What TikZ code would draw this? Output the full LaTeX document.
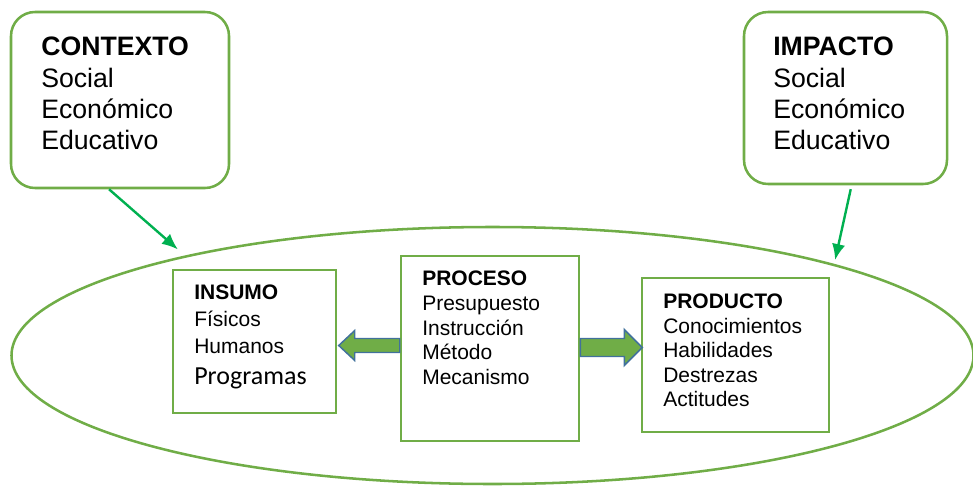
\documentclass[tikz,border=0pt]{standalone}
\usepackage{fontspec}
\setmainfont{Liberation Sans}
\newfontfamily\calibrifont{Carlito}
\usepackage{xcolor}
\usepackage{tikz}
\usetikzlibrary{arrows.meta,shapes.geometric}

\definecolor{boxgreen}{RGB}{112,173,71}
\definecolor{arrowgreen}{RGB}{0,176,80}
\definecolor{arrowblue}{RGB}{65,113,156}

\begin{document}
\begin{tikzpicture}[
  x=0.75pt, y=-0.75pt,
  outerbox/.style={draw=boxgreen, line width=1.9pt, rounded corners=18pt, inner sep=0pt},
  innerbox/.style={draw=boxgreen, line width=1.9pt, inner sep=0pt},
  bigtxt/.style={anchor=north west, align=left, inner sep=0pt, font=\fontsize{20}{23.4}\selectfont},
  smalltxt/.style={anchor=north west, align=left, inner sep=0pt, font=\fontsize{15.75}{19.9}\selectfont},
  pointer/.style={arrowgreen, line width=1.8pt, -{Latex[length=12pt, width=10pt]}},
  blockarrow/.style={fill=boxgreen, draw=arrowblue, line width=1.1pt, line join=miter}
]
\useasboundingbox (0,0) rectangle (973,485);

% la elipse del sistema
\node[ellipse, draw=boxgreen, line width=1.9pt, minimum width=721.5pt, minimum height=192.75pt] (elli) at (492.5,355.5) {};

% contexto e impacto
\node[outerbox, minimum width=163.5pt, minimum height=132pt] (ctx) at (120,100) {};
\node[outerbox, minimum width=152.25pt, minimum height=129pt] (imp) at (845.5,98) {};
\node[bigtxt] (ctxtxt) at (41,37) {\textbf{CONTEXTO}\\Social\\Económico\\Educativo};
\node[bigtxt] (imptxt) at (773,37) {\textbf{IMPACTO}\\Social\\Económico\\Educativo};

\draw[pointer, shorten >=7pt] (ctx.263.5) -- (elli.162.5);
\draw[pointer, shorten <=3pt, shorten >=3pt] (imp.274.3) -- (elli.15.9);

% insumo, proceso, producto
\node[innerbox, minimum width=122.25pt, minimum height=107.25pt] (ins) at (254.5,341.5) {};
\node[innerbox, minimum width=133.5pt, minimum height=138.75pt] (proc) at (490,348.5) {};
\node[innerbox, minimum width=140.25pt, minimum height=115.5pt] (prod) at (735.5,355) {};

\node[smalltxt] (instxt) at (194,285) {\textbf{INSUMO}\\Físicos\\Humanos\\[3.5pt]{\calibrifont\fontsize{19.5}{19.9}\selectfont Programas}};
\node[smalltxt, font=\fontsize{15.75}{18.5}\selectfont] (proctxt) at (422,271) {\textbf{PROCESO}\\Presupuesto\\Instrucción\\Método\\Mecanismo};
\node[smalltxt, font=\fontsize{15.75}{18.3}\selectfont] (prodtxt) at (663,294) {\textbf{PRODUCTO}\\Conocimientos\\Habilidades\\Destrezas\\Actitudes};

% flechas de bloque
\draw[blockarrow] (proc.west) ++(0,-10) -- ++(-45,0) -- ++(0,-8) -- ++(-16,15)
  -- ++(16,15) -- ++(0,-8) -- ++(45,0) -- cycle;
\draw[blockarrow] (proc.east) ++(0,-10) -- ++(44,0) -- ++(0,-9) -- ++(18,18)
  -- ++(-18,18) -- ++(0,-9) -- ++(-44,0) -- cycle;
\end{tikzpicture}
\end{document}
